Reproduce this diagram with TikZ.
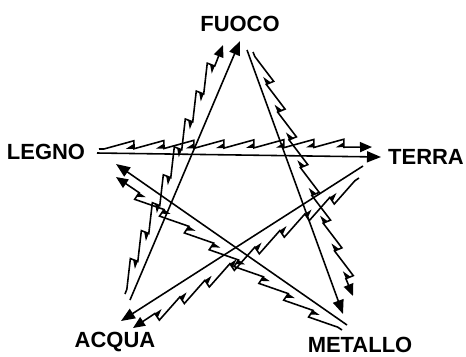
\documentclass[tikz,border=0pt]{standalone}
\usepackage{fontspec}
\setmainfont{Liberation Sans}
\usetikzlibrary{decorations.pathmorphing, decorations.markings, arrows.meta}
\tikzset{elem/.style={font=\bfseries\fontsize{12.5}{14}\selectfont, inner sep=0pt}}
\tikzset{ctrl/.style={line width=0.9pt, -{Triangle[length=2.8mm, width=2.2mm]}}}
\tikzset{sawline/.style={line width=0.9pt, -{Triangle[length=2.4mm, width=2mm]}, decorate,
  decoration={saw, amplitude=1.6mm, segment length=6mm, pre length=1mm, post length=2.8mm}}}
\tikzset{sawfoot/.style={decoration={markings,
  mark=between positions 7mm and -2.7mm step 6mm with {\fill (0,0) -- (-1.6mm,0) -- (0,1mm) -- cycle;}},
  postaction={decorate}}}
\newcommand{\fsaw}[2]{\draw[sawline] (#1) -- (#2); \path[sawfoot] (#1) -- (#2);}

\begin{document}
\begin{tikzpicture}[x=0.02cm, y=-0.02cm]
\useasboundingbox (0,0) rectangle (466,356);
% elements
\node[elem] (fuoco) at (240,24) {FUOCO};
\node[elem] (legno) at (46,152) {LEGNO};
\node[elem] (terra) at (426,157) {TERRA};
\node[elem] (acqua) at (115,342) {ACQUA};
\node[elem] (metallo) at (360,345) {METALLO};
% ends of the straight arrows
\coordinate (aS) at (130,300); \coordinate (fE) at (240,41);
\coordinate (fS) at (247,50); \coordinate (mE) at (343,314);
\coordinate (lS) at (97,153); \coordinate (tE) at (381,157);
\coordinate (mS) at (347,325); \coordinate (lE) at (116,164);
\coordinate (tS) at (363,166); \coordinate (aE) at (121,321);
% ends of the saw arrows
\coordinate (zaS) at (125,294); \coordinate (zfE) at (223,45);
\coordinate (zfS) at (253,52); \coordinate (zmE) at (353,296);
\coordinate (zlS) at (99,149); \coordinate (ztE) at (372,147);
\coordinate (zmS) at (342,330); \coordinate (zlE) at (116,177);
\coordinate (ztS) at (359,178); \coordinate (zaE) at (133,328);
% straight cycle
\draw[ctrl] (aS) -- (fE);
\draw[ctrl] (fS) -- (mE);
\draw[ctrl] (lS) -- (tE);
\draw[ctrl] (mS) -- (lE);
\draw[ctrl] (tS) -- (aE);
% saw cycle
\fsaw{zaS}{zfE}
\fsaw{zfS}{zmE}
\fsaw{zlS}{ztE}
\fsaw{zmS}{zlE}
\fsaw{ztS}{zaE}
\end{tikzpicture}
\end{document}
